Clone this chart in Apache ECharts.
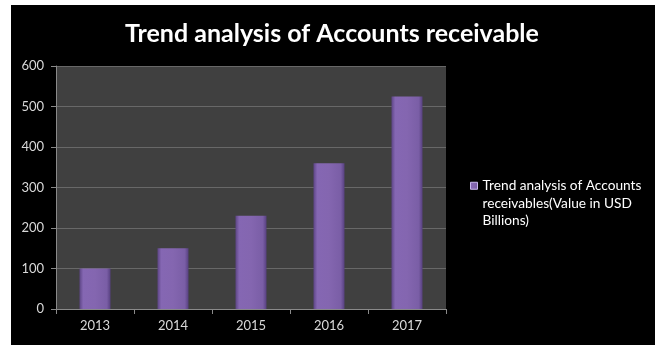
<!DOCTYPE html>
<html>
<head>
<meta charset="utf-8">
<script src="https://cdn.jsdelivr.net/npm/echarts@6/dist/echarts.min.js"></script>
<style>
  html, body { margin: 0; padding: 0; background: #ffffff; }
  #frame { position: absolute; left: 11px; top: 5px; width: 644px; height: 340px; background: #000000; }
  #chart { position: absolute; left: 0; top: 0; width: 660px; height: 345px; }
</style>
</head>
<body>
<div id="frame"></div>
<div id="chart"></div>
<script>
const years = ['2013', '2014', '2015', '2016', '2017'];
const receivables = [100, 150, 230, 360, 525];
const yTicks = [0, 100, 200, 300, 400, 500, 600];
const seriesName = 'Trend analysis of Accounts receivables(Value in USD Billions)';
const titleText = 'Trend analysis of Accounts receivable';

const font = 'Lato, "Open Sans", sans-serif';
const chart = echarts.init(document.getElementById('chart'), null, { renderer: 'canvas' });

chart.setOption({
  backgroundColor: 'transparent',
  animation: false,
  title: {
    text: titleText,
    left: 327,
    textAlign: 'center',
    top: 16,
    textStyle: { color: '#ffffff', fontFamily: font, fontWeight: 'bold', fontSize: 25 }
  },
  grid: { left: 56, right: 214, top: 66, bottom: 36, show: true, backgroundColor: '#404040', borderWidth: 0 },
  legend: {
    left: 465,
    top: 137,
    orient: 'vertical',
    itemWidth: 7,
    itemHeight: 7,
    icon: 'rect',
    itemStyle: { borderColor: '#c9b8ee', borderWidth: 1 },
    formatter: () => '\n\nTrend analysis of Accounts\nreceivables(Value in USD\nBillions)',
    textStyle: { color: '#ffffff', fontFamily: font, fontSize: 13.7, lineHeight: 17.5 }
  },
  xAxis: {
    type: 'category',
    data: years,
    axisLine: { lineStyle: { color: '#8a8a8a', width: 1 } },
    axisTick: { show: true, length: 5, lineStyle: { color: '#8a8a8a' } },
    axisLabel: { color: '#d9d9d9', fontFamily: font, fontSize: 13, margin: 10 }
  },
  yAxis: {
    type: 'value',
    min: yTicks[0],
    max: yTicks[yTicks.length - 1],
    interval: 100,
    axisLine: { show: true, lineStyle: { color: '#8a8a8a', width: 1 } },
    axisTick: { show: true, length: 5, lineStyle: { color: '#8a8a8a' } },
    axisLabel: { color: '#d9d9d9', fontFamily: font, fontSize: 13, margin: 12 },
    splitLine: { lineStyle: { color: '#686868', width: 1 } }
  },
  series: [{
    name: seriesName,
    type: 'bar',
    data: receivables,
    barWidth: 31,
    itemStyle: {
      color: new echarts.graphic.LinearGradient(0, 0, 1, 0, [
        { offset: 0, color: '#5d4585' },
        { offset: 0.12, color: '#8567b3' },
        { offset: 0.5, color: '#8466b0' },
        { offset: 0.88, color: '#7a5ea6' },
        { offset: 1, color: '#574080' }
      ]),
      borderWidth: 0
    }
  }]
});
</script>
</body>
</html>
